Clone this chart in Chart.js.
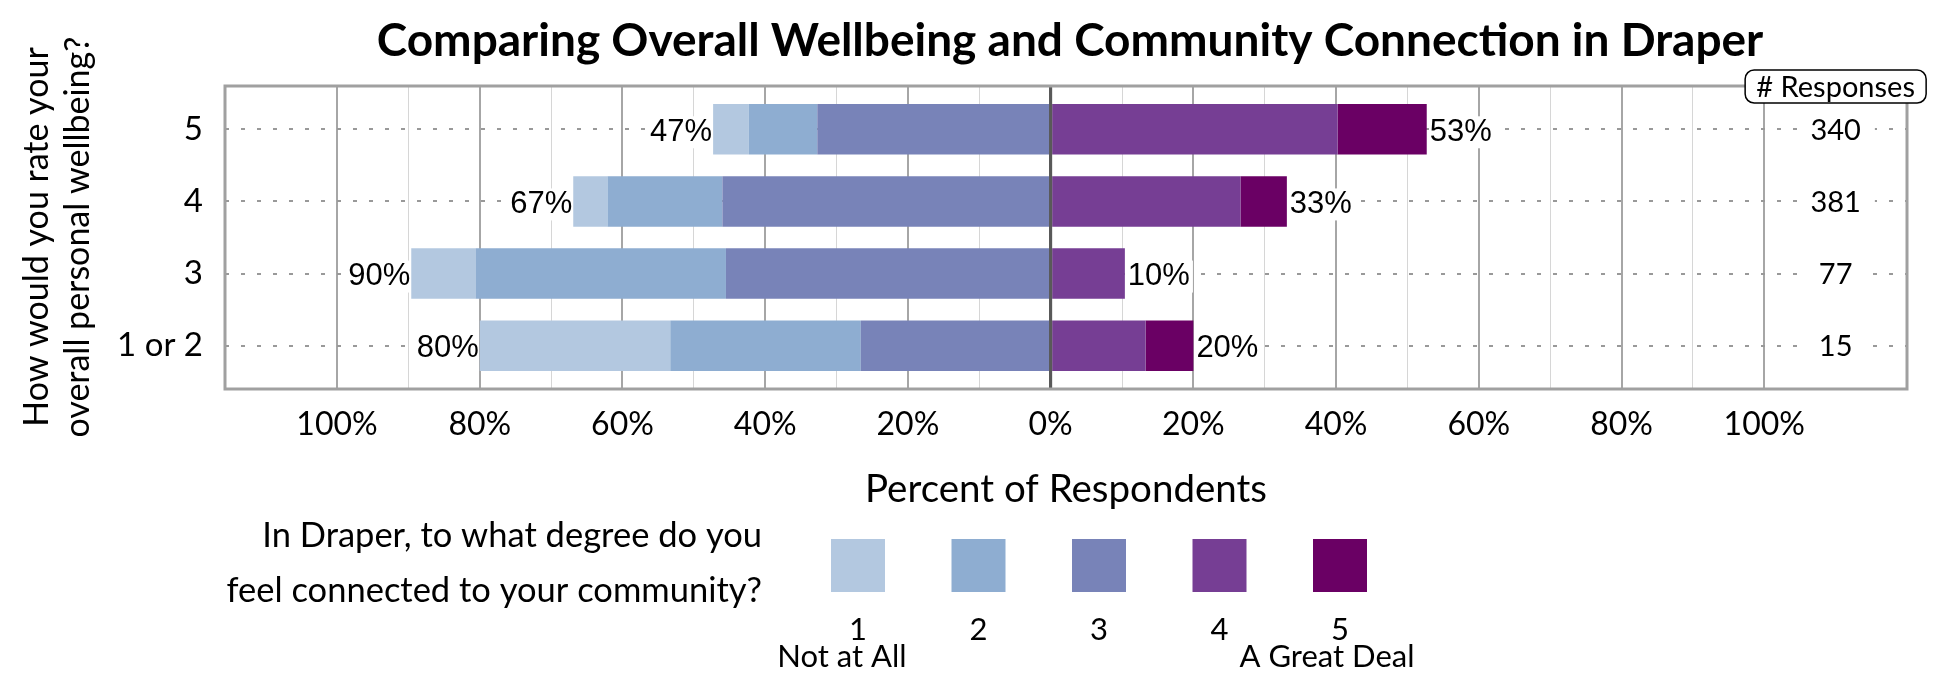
<!DOCTYPE html>
<html>
<head>
<meta charset="utf-8">
<title>Comparing Overall Wellbeing and Community Connection in Draper</title>
<script src="https://cdn.jsdelivr.net/npm/chart.js@4.4.1/dist/chart.umd.min.js"></script>
<style>
  html, body { margin: 0; padding: 0; background: #fff; }
  #wrap { width: 1950px; height: 675px; }
</style>
</head>
<body>
<div id="wrap"><canvas id="likertChart" width="1950" height="675"></canvas></div>
<script>
  // rows, top to bottom: answer to "How would you rate your overall personal wellbeing?"
  const rowLabels = ['5', '4', '3', '1 or 2'];
  const responses = [340, 381, 77, 15];

  // percent of respondents per connection level (1 = Not at All ... 5 = A Great Deal)
  const level1 = [5.0, 4.8, 9.0, 26.7];
  const level2 = [9.6, 16.1, 35.1, 26.7];
  const level3 = [32.7, 46.0, 45.5, 26.6];
  const level4 = [40.2, 26.6, 10.4, 13.3];
  const level5 = [12.5, 6.5, 0, 6.7];

  const levelNames = ['1', '2', '3', '4', '5'];
  const levelColors = ['#B3C8E0', '#8EADD1', '#7883B8', '#763E94', '#6A0064'];

  // vertical grid lines, labelled every 20%
  const gridValues = [-100, -90, -80, -70, -60, -50, -40, -30, -20, -10, 0,
                      10, 20, 30, 40, 50, 60, 70, 80, 90, 100];

  const FONT = 'Lato';

  function toPoints(arr, sign) {
    return arr.map((v, i) => ({ x: sign * v, y: i }));
  }

  function textWithBg(ctx, text, x, y, align, padL, padR) {
    const w = ctx.measureText(text).width;
    const left = align === 'right' ? x - w : (align === 'center' ? x - w / 2 : x);
    ctx.fillStyle = '#fff';
    ctx.fillRect(left - padL, y - 16, w + padL + padR, 32);
    ctx.fillStyle = '#000';
    ctx.textAlign = align;
    ctx.fillText(text, x, y);
  }

  const likertExtras = {
    id: 'likertExtras',
    afterDatasetsDraw(chart) {
      const { ctx, chartArea: a, scales: { x, y } } = chart;
      ctx.save();

      // zero line sits on top of the bars
      const x0 = x.getPixelForValue(0);
      ctx.strokeStyle = '#595959';
      ctx.lineWidth = 3;
      ctx.beginPath();
      ctx.moveTo(x0, a.top);
      ctx.lineTo(x0, a.bottom);
      ctx.stroke();

      // frame round the plot
      ctx.strokeStyle = '#A0A0A0';
      ctx.lineWidth = 3;
      ctx.strokeRect(a.left, a.top, a.right - a.left, a.bottom - a.top);

      // totals on each side of the bars
      ctx.textBaseline = 'middle';
      ctx.font = '31px "Liberation Sans"';
      rowLabels.forEach((r, i) => {
        const neg = level1[i] + level2[i] + level3[i];
        const pos = level4[i] + level5[i];
        const py = y.getPixelForValue(i) + 3;
        textWithBg(ctx, Math.round(neg) + '%', x.getPixelForValue(-neg) - 1, py, 'right', 3, 0);
        textWithBg(ctx, Math.round(pos) + '%', x.getPixelForValue(pos) + 3, py, 'left', 0, 3);
      });

      // responses column
      ctx.font = '29px ' + FONT;
      const xr = x.getPixelForValue(110);
      rowLabels.forEach((r, i) => {
        textWithBg(ctx, String(responses[i]), xr, y.getPixelForValue(i) + 1, 'center', 10, 14);
      });

      // "# Responses" header box
      ctx.font = '29px ' + FONT;
      const hw = 181, hh = 33;
      const hx = xr - hw / 2, hy = a.top - 16;
      ctx.beginPath();
      ctx.roundRect(hx, hy, hw, hh, 9);
      ctx.fillStyle = '#fff';
      ctx.fill();
      ctx.strokeStyle = '#000';
      ctx.lineWidth = 1.5;
      ctx.stroke();
      ctx.fillStyle = '#000';
      ctx.textAlign = 'center';
      ctx.fillText('# Responses', xr, hy + hh / 2 + 1);

      ctx.restore();
    },
    afterDraw(chart) {
      const { ctx } = chart;
      ctx.save();
      ctx.fillStyle = '#000';

      // main title
      ctx.font = 'bold 46px ' + FONT;
      ctx.textAlign = 'center';
      ctx.textBaseline = 'alphabetic';
      ctx.fillText('Comparing Overall Wellbeing and Community Connection in Draper', 1070, 56);

      // y axis title, two rotated lines
      ctx.font = '34px ' + FONT;
      ctx.textBaseline = 'middle';
      [['How would you rate your', 37], ['overall personal wellbeing?', 78]].forEach(([t, cx]) => {
        ctx.save();
        ctx.translate(cx, 237);
        ctx.rotate(-Math.PI / 2);
        ctx.fillText(t, 0, 0);
        ctx.restore();
      });

      // x axis title
      ctx.font = '38.5px ' + FONT;
      ctx.textBaseline = 'alphabetic';
      ctx.fillText('Percent of Respondents', 1066, 502);

      // legend
      ctx.textAlign = 'right';
      ctx.font = '34.5px ' + FONT;
      ctx.fillText('In Draper, to what degree do you', 762, 547);
      ctx.fillText('feel connected to your community?', 762, 602);

      ctx.textAlign = 'center';
      levelNames.forEach((name, i) => {
        const lx = 831 + i * 120.5;
        ctx.fillStyle = levelColors[i];
        ctx.fillRect(lx, 539, 54, 53);
        ctx.fillStyle = '#000';
        ctx.font = '31px ' + FONT;
        ctx.fillText(name, lx + 27, 640);
      });
      ctx.font = '31px ' + FONT;
      ctx.fillText('Not at All', 842, 667);
      ctx.fillText('A Great Deal', 1327, 667);

      ctx.restore();
    }
  };

  const datasets = [
    { label: levelNames[2], data: toPoints(level3, -1), backgroundColor: levelColors[2] },
    { label: levelNames[1], data: toPoints(level2, -1), backgroundColor: levelColors[1] },
    { label: levelNames[0], data: toPoints(level1, -1), backgroundColor: levelColors[0] },
    { label: levelNames[3], data: toPoints(level4, 1), backgroundColor: levelColors[3] },
    { label: levelNames[4], data: toPoints(level5, 1), backgroundColor: levelColors[4] }
  ];

  function buildChart() {
    const ctx = document.getElementById('likertChart').getContext('2d');
    new Chart(ctx, {
      type: 'bar',
      data: { datasets: datasets },
      options: {
        indexAxis: 'y',
        responsive: false,
        animation: false,
        events: [],
        layout: { padding: { left: 0, top: 86, right: 43, bottom: 226 } },
        datasets: {
          bar: { categoryPercentage: 0.7, barPercentage: 1, borderWidth: 0 }
        },
        scales: {
          x: {
            type: 'linear',
            stacked: true,
            min: -115.7,
            max: 120,
            offset: false,
            afterBuildTicks: s => { s.ticks = gridValues.map(v => ({ value: v })); },
            afterFit: s => { s.height = 60; },
            border: { display: false },
            grid: {
              offset: false,
              drawTicks: false,
              color: c => c.tick.value === 0 ? '#595959' : (c.tick.value % 20 === 0 ? '#A6A6A6' : '#D6D6D6'),
              lineWidth: c => c.tick.value === 0 ? 3 : (c.tick.value % 20 === 0 ? 2 : 1)
            },
            ticks: {
              autoSkip: false,
              maxRotation: 0,
              padding: 16,
              color: '#000',
              font: { family: FONT, size: 32 },
              callback: v => v % 20 === 0 ? Math.abs(v) + '%' : ''
            }
          },
          y: {
            type: 'linear',
            stacked: true,
            reverse: true,
            min: -0.6,
            max: 3.6,
            offset: false,
            afterBuildTicks: s => { s.ticks = rowLabels.map((r, i) => ({ value: i })); },
            afterFit: s => { s.width = 225; },
            border: { display: false, dash: [4, 12] },
            grid: { offset: false, drawTicks: false, color: '#999999', lineWidth: 2 },
            ticks: {
              padding: 22,
              color: '#000',
              font: { family: FONT, size: 33 },
              callback: v => rowLabels[v]
            }
          }
        },
        plugins: {
          legend: { display: false },
          title: { display: false },
          tooltip: { enabled: false }
        }
      },
      plugins: [likertExtras]
    });
  }

  if (document.fonts && document.fonts.load) {
    Promise.all([
      document.fonts.load('32px Lato'),
      document.fonts.load('bold 46px Lato'),
      document.fonts.load('31px "Liberation Sans"')
    ]).then(buildChart, buildChart);
  } else {
    buildChart();
  }
</script>
</body>
</html>
